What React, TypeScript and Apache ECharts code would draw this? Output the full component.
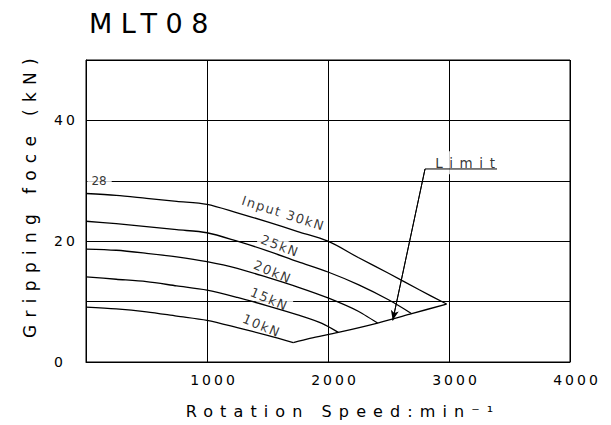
import React, { useEffect, useRef } from 'react';
import * as echarts from 'echarts';

// ---------- data ----------
const titleText = 'MLT08';
const xName = 'Rotation Speed:min⁻¹';
const yName = 'Gripping foce (kN)';

const curve30 = [[0, 27.9], [250, 27.6], [500, 27.1], [750, 26.6], [1000, 26.1], [1250, 24.7], [1500, 23.2], [1750, 21.6], [2000, 20.0], [2250, 17.3], [2500, 14.7], [2750, 12.0], [2980, 9.6]];
const curve25 = [[0, 23.3], [250, 22.9], [500, 22.4], [750, 21.9], [1000, 21.4], [1250, 20.0], [1500, 18.4], [1750, 16.6], [2000, 14.9], [2250, 12.8], [2500, 10.3], [2692, 8.0]];
const curve20 = [[0, 18.7], [250, 18.5], [500, 18.0], [750, 17.4], [1000, 16.6], [1250, 15.5], [1500, 14.0], [1750, 12.4], [2000, 10.6], [2250, 8.4], [2410, 6.45]];
const curve15 = [[0, 14.1], [250, 13.7], [500, 13.3], [750, 12.6], [1000, 11.9], [1250, 10.7], [1500, 9.3], [1750, 7.8], [1950, 6.4], [2085, 4.9]];
const curve10 = [[0, 9.1], [250, 8.8], [500, 8.3], [750, 7.6], [1000, 6.9], [1250, 5.7], [1500, 4.4], [1713, 3.2]];
const limitLine = [[1713, 3.2], [1850, 3.9], [2085, 4.9], [2410, 6.45], [2692, 8.0], [2980, 9.6]];

const curveLabelTexts = ['Input 30kN', '25kN', '20kN', '15kN', '10kN'];
const curveLabelX = [1631, 1603, 1543, 1515, 1452];
const curveLabelY = [24.6, 19.2, 14.9, 10.4, 6.0];
const curveLabelAngle = [-18, -21, -23, -23, -23];

const startLabel = '28';
const startLabelPos = [112, 30];

const limitText = 'Limit';
const limitTextPos = [3160, 33.0];
const limitUnderline = [[3397, 31.96], [2802, 31.96], [2535, 6.9]];
const limitArrowFrom = [2802, 31.96];
const limitArrowTo = [2535, 6.9];

const xMin = 0, xMax = 4000, xStep = 1000;
const yMin = 0, yMax = 50, yStep = 10;
const yShownLabels = [0, 20, 40];

const FONT = 'DejaVu Sans';
const WEIGHT = 'normal';

const css = `
text[style*="27px"]{letter-spacing:8.5px}
text[style*="17px"]{letter-spacing:7.3px}
text[style*="16px"]{letter-spacing:7.1px}
text[style*="13.5px"]{letter-spacing:6.6px}
text[style*="14px"]{letter-spacing:3px}
text[style*="13px"]{letter-spacing:1.5px}
`;

export default function App() {
  const ref = useRef<HTMLDivElement>(null);
  useEffect(() => {
    if (!ref.current) return;
    const chart = echarts.init(ref.current, null, { renderer: 'svg' });
    const curveStyle = { color: '#000', width: 1.3 };
    const mkCurve = (name: string, data: number[][]) => ({
      name, type: 'line', data, z: 3, symbol: 'none', smooth: 0.3,
      lineStyle: curveStyle, silent: true,
    });
    const option: any = {
      animation: false,
      backgroundColor: '#fff',
      title: {
        text: titleText, left: 89, top: 10, padding: 0,
        textStyle: { fontFamily: FONT, fontSize: 27, fontWeight: WEIGHT, color: '#000' },
      },
      grid: {
        left: 86, right: 41, top: 60, bottom: 63, show: true,
        borderColor: '#000', borderWidth: 1, containLabel: false, outerBoundsMode: 'none',
      },
      xAxis: {
        type: 'value', min: xMin, max: xMax, interval: xStep,
        name: xName, nameLocation: 'middle', nameGap: 41, nameMoveOverlap: false,
        nameTextStyle: { fontFamily: FONT, fontWeight: WEIGHT, fontSize: 16, color: '#000', padding: [0, 0, 0, 30] },
        axisLine: { lineStyle: { color: '#000', width: 1 } },
        axisTick: { show: false },
        axisLabel: {
          fontFamily: FONT, fontWeight: WEIGHT, fontSize: 14, color: '#000', margin: 11, padding: [0, 0, 0, 14],
          formatter: (v: number) => (v === 0 ? '' : String(v)),
        },
        splitLine: { show: true, lineStyle: { color: '#000', width: 1 } },
      },
      yAxis: {
        type: 'value', min: yMin, max: yMax, interval: yStep,
        name: yName, nameLocation: 'middle', nameGap: 48, nameRotate: 90, nameMoveOverlap: false,
        nameTextStyle: { fontFamily: FONT, fontWeight: WEIGHT, fontSize: 17, color: '#000', padding: [0, 0, 0, 33] },
        axisLine: { lineStyle: { color: '#000', width: 1 } },
        axisTick: { show: false },
        axisLabel: {
          fontFamily: FONT, fontWeight: WEIGHT, fontSize: 14, color: '#000', margin: 32, align: 'left',
          formatter: (v: number) => (yShownLabels.includes(v) ? String(v) : ''),
        },
        splitLine: { show: true, lineStyle: { color: '#000', width: 1 } },
      },
      series: [
        {
          type: 'scatter', z: 1, silent: true, symbol: 'circle', symbolSize: 0,
          itemStyle: { color: 'transparent' },
          label: {
            show: true, position: 'inside', color: '#000', fontFamily: FONT, fontWeight: WEIGHT, fontSize: 13,
            backgroundColor: '#fff', padding: [1, 6, 1, 6],
          },
          data: [
            ...curveLabelTexts.map((t, i) => ({
              value: [curveLabelX[i], curveLabelY[i]],
              label: { formatter: t, rotate: curveLabelAngle[i] },
            })),
            {
              value: startLabelPos,
              label: { formatter: startLabel, fontSize: 12, padding: [2, 5, 2, 4] },
            },
            {
              value: limitTextPos,
              label: { formatter: limitText, fontSize: 13.5, padding: [9, 16, 0, 16] },
            },
          ],
        },
        mkCurve('30kN', curve30),
        mkCurve('25kN', curve25),
        mkCurve('20kN', curve20),
        mkCurve('15kN', curve15),
        mkCurve('10kN', curve10),
        mkCurve('Limit', limitLine),
        {
          type: 'line', z: 3, silent: true, symbol: 'none', data: limitUnderline,
          lineStyle: { color: '#000', width: 1 },
          markLine: {
            silent: true, symbol: ['none', 'arrow'], symbolSize: [6, 10],
            label: { show: false },
            lineStyle: { color: '#000', width: 1, type: 'solid' },
            data: [[{ coord: limitArrowFrom }, { coord: limitArrowTo }]],
          },
        },
      ],
    };
    chart.setOption(option);
    return () => chart.dispose();
  }, []);
  return (
    <>
      <style>{css}</style>
      <div ref={ref} style={{ position: 'fixed', left: 0, top: 0, width: 611, height: 425 }} />
    </>
  );
}
